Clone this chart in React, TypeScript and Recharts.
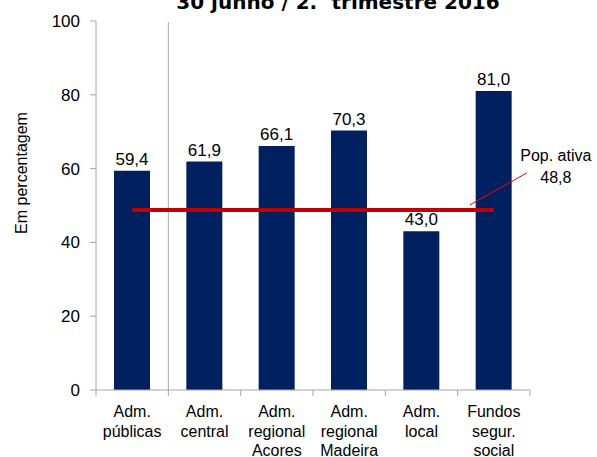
import React from 'react';
import { ComposedChart, Bar, Line, XAxis, YAxis, LabelList, ReferenceArea } from 'recharts';

const categories = [
  'Adm.\npúblicas',
  'Adm.\ncentral',
  'Adm.\nregional\nAcores',
  'Adm.\nregional\nMadeira',
  'Adm.\nlocal',
  'Fundos\nsegur.\nsocial',
];
const shares = [59.4, 61.9, 66.1, 70.3, 43.0, 81.0];
const popAtiva = [48.8, 48.8, 48.8, 48.8, 48.8, 48.8];
const yTicks = [0, 20, 40, 60, 80, 100];
const titleStart = '30 junho / 2.';
const titleSup = 'º';
const titleEnd = ' trimestre 2016';
const yTitle = 'Em percentagem';
const popLabel = 'Pop. ativa';

const data = categories.map((c, i) => ({ cat: c, value: shares[i], pop: popAtiva[i] }));

const NAVY = '#002060';
const RED = '#C00000';
const GRAY = '#A6A6A6';
const FONT = '"Liberation Sans", Arial, sans-serif';

const fmt = (v: number) => v.toFixed(1).replace('.', ',');

const XTick = (props: any) => {
  const { x, y, payload, index } = props;
  const half = payload && typeof payload.offset === 'number' && payload.offset > 0 ? payload.offset : 434 / 12;
  const lines = String(payload.value).split('\n');
  return (
    <g>
      <line x1={x - half} x2={x - half} y1={y} y2={y + 6} stroke={GRAY} strokeWidth={1} />
      {index === categories.length - 1 && (
        <line x1={x + half} x2={x + half} y1={y} y2={y + 6} stroke={GRAY} strokeWidth={1} />
      )}
      <text x={x} y={y} textAnchor="middle" fontFamily={FONT} fontSize={16} fill="#000">
        {lines.map((l, i) => (
          <tspan key={i} x={x} y={y + 27 + i * 19.5}>{l}</tspan>
        ))}
      </text>
    </g>
  );
};

const YTick = (props: any) => {
  const { x, y, payload } = props;
  return (
    <text x={x} y={y} dy={6} textAnchor="end" fontFamily={FONT} fontSize={17} fill="#000">
      {payload.value}
    </text>
  );
};

const YLabel = () => (
  <text transform="translate(27,173) rotate(-90)" textAnchor="middle" fontFamily={FONT} fontSize={16} fill="#000">
    {yTitle}
  </text>
);

const ValueLabel = (props: any) => {
  const { x, y, width, value } = props;
  return (
    <text x={x + width / 2} y={y - 6} textAnchor="middle" fontFamily={FONT} fontSize={17} fill="#000">
      {fmt(value)}
    </text>
  );
};

const PopLabel = (props: any) => {
  const { x, y, index, value } = props;
  if (index !== categories.length - 1) return null;
  return (
    <g>
      <line x1={x - 24} y1={y - 5} x2={x + 33} y2={y - 37} stroke="#FF0000" strokeWidth={1} />
      <text x={x + 62} y={y - 49} textAnchor="middle" fontFamily={FONT} fontSize={16} fill="#000">{popLabel}</text>
      <text x={x + 62} y={y - 27} textAnchor="middle" fontFamily={FONT} fontSize={16} fill="#000">{fmt(value)}</text>
    </g>
  );
};

const Separator = (props: any) => {
  const { x, y, width, height } = props;
  const lx = x + width;
  return <line x1={lx} x2={lx} y1={y + 1} y2={y + height} stroke={GRAY} strokeWidth={1} />;
};

export default function App() {
  return (
    <div style={{ position: 'absolute', left: 0, top: 0, width: 597, height: 457, background: '#fff', overflow: 'hidden' }}>
      <ComposedChart
        width={597}
        height={457}
        data={data}
        margin={{ top: 21, right: 67, bottom: 0, left: 0 }}
        style={{ position: 'absolute', left: 0, top: 0 }}
      >
        <ReferenceArea
          x1={categories[0]}
          x2={categories[0]}
          fill="none"
          stroke="none"
          ifOverflow="visible"
          shape={<Separator />}
        />
        <XAxis
          dataKey="cat"
          type="category"
          height={67}
          interval={0}
          tickLine={false}
          tickSize={0}
          tickMargin={0}
          axisLine={{ stroke: GRAY, strokeWidth: 1 }}
          tick={<XTick />}
        />
        <YAxis
          width={96}
          domain={[0, 100]}
          ticks={yTicks}
          interval={0}
          tickSize={6}
          tickMargin={10}
          tickLine={{ stroke: GRAY }}
          axisLine={{ stroke: GRAY, strokeWidth: 1 }}
          tick={<YTick />}
          label={<YLabel />}
        />
        <Bar dataKey="value" fill={NAVY} barSize={36} isAnimationActive={false}>
          <LabelList dataKey="value" content={<ValueLabel />} />
        </Bar>
        <Line
          dataKey="pop"
          stroke={RED}
          strokeWidth={4}
          dot={false}
          activeDot={false}
          isAnimationActive={false}
        >
          <LabelList dataKey="pop" content={<PopLabel />} />
        </Line>
      </ComposedChart>
      <svg width={597} height={30} style={{ position: 'absolute', left: 0, top: 0, overflow: 'visible' }}>
        <text
          x={338}
          y={9}
          textAnchor="middle"
          fontFamily='"DejaVu Sans", Verdana, sans-serif'
          fontWeight="bold"
          fontSize={20}
          fill="#000"
        >
          {titleStart}
          <tspan dy={-9} fontSize={13}>{titleSup}</tspan>
          <tspan dy={9}>{titleEnd}</tspan>
        </text>
      </svg>
    </div>
  );
}
